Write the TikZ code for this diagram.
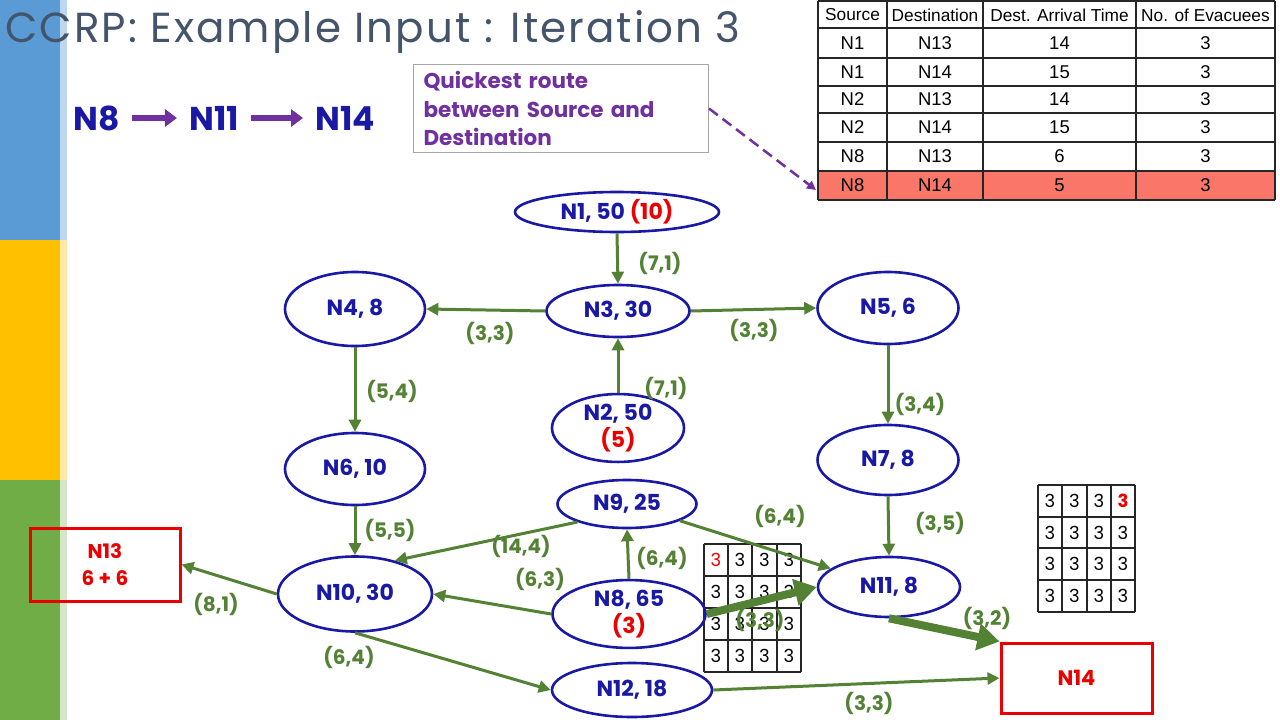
\documentclass[tikz,border=0pt]{standalone}
\usepackage{fontspec}
\setmainfont{Poppins}
\newfontfamily\arialf{Liberation Sans}
\newfontfamily\titlef[LetterSpace=5]{Poppins}
\usetikzlibrary{arrows.meta,shapes.geometric}
\definecolor{navy}{RGB}{25,25,165}
\definecolor{egreen}{RGB}{84,130,53}
\definecolor{purp}{RGB}{112,48,160}
\definecolor{tgray}{RGB}{68,84,106}
\definecolor{rred}{RGB}{235,0,0}
\definecolor{salmon}{RGB}{250,118,105}
\definecolor{sblue}{RGB}{91,155,213}
\definecolor{syellow}{RGB}{255,192,0}
\definecolor{sgreen}{RGB}{112,173,71}
\begin{document}
\begin{tikzpicture}[x=1pt,y=-1pt,
  nd/.style={ellipse,draw=navy,line width=2.6pt,inner sep=0pt,text=navy,
    font=\fontsize{22}{23}\selectfont\bfseries,align=center},
  dest/.style={rectangle,draw=rred,line width=3pt,inner sep=0pt,text=rred,
    font=\fontsize{20}{27}\selectfont\bfseries,align=center},
  edge/.style={draw=egreen,line width=3pt,-{Triangle[length=12pt,width=12pt]}},
  bigedge/.style={draw=egreen,line width=8pt,-{Triangle[length=22pt,width=26pt]}},
  lbl/.style={text=egreen,font=\fontsize{20}{22}\selectfont\bfseries,inner sep=0pt},
  pathnd/.style={text=navy,font=\fontsize{33}{36}\selectfont\bfseries,inner xsep=12pt,inner ysep=0pt},
  parrow/.style={draw=purp,line width=6pt,-{Triangle[length=12pt,width=17pt]}},
  cell/.style={font=\arialf\fontsize{18.5}{20}\selectfont,inner sep=0pt},
  hcell/.style={font=\arialf\fontsize{17.3}{20}\selectfont,inner sep=0pt},
  gcell/.style={font=\fontsize{18}{20}\selectfont,inner sep=0pt},
  tline/.style={draw=black!85,line width=1.4pt},
  gline/.style={draw=black!85,line width=1.1pt}
]
\useasboundingbox (0,0) rectangle (1280,720);
\fill[white] (0,0) rectangle (1280,720);
% side strip
\fill[sblue] (0,0) rectangle (60,240);
\fill[sblue!40] (60,0) rectangle (67,240);
\fill[syellow] (0,240) rectangle (60,480);
\fill[syellow!35] (60,240) rectangle (67,480);
\fill[sgreen] (0,480) rectangle (60,720);
\fill[sgreen!30] (60,480) rectangle (67,720);
% title
\node[anchor=base west,inner sep=0pt,text=tgray,font=\titlef\fontsize{42}{46}\selectfont] (title) at (5,42) {CCRP: Example Input : Iteration 3};
% route
\node[pathnd] (p8) at (97,118) {N8};
\node[pathnd] (p11) at (214,118) {N11};
\node[pathnd] (p14) at (345,118) {N14};
\draw[parrow] (p8) -- (p11);
\draw[parrow] (p11) -- (p14);
% table
\fill[salmon] (818,171) rectangle (1275,200);
\foreach \y in {1,28,58,86,113,142,171,200} \draw[tline] (818,\y) -- (1275,\y);
\foreach \x in {818,887,983,1136,1275} \draw[tline] (\x,1) -- (\x,200);
\node[hcell] (h1) at (852.5,15) {Source};
\node[hcell] (h2) at (935,15) {Destination};
\node[hcell] (h3) at (1059.5,15) {Dest. Arrival Time};
\node[hcell] (h4) at (1205.5,15) {No. of Evacuees};
\foreach \s/\d/\t/\yy in {N1/N13/14/43, N1/N14/15/72, N2/N13/14/99.5, N2/N14/15/127.5, N8/N13/6/156.5, N8/N14/5/185.5}{
  \node[cell] at (852.5,\yy) {\s};
  \node[cell] at (935,\yy) {\d};
  \node[cell] at (1059.5,\yy) {\t};
  \node[cell] at (1205.5,\yy) {3};
}
\coordinate (rowhit) at (816,190);
% callout
\node[draw=black!35,line width=1pt,anchor=north west,minimum width=295pt,minimum height=88pt,
  inner xsep=10pt,inner ysep=0pt,text=purp,align=left,text width=275pt,
  font=\fontsize{21.5}{28.5}\selectfont\bfseries] (call) at (413,64) {Quickest route\\between Source and\\Destination};
\draw[purp,line width=2.5pt,dash pattern=on 11pt off 6pt,-{Triangle[length=9pt,width=9pt]}] (call.east) -- (rowhit);
% grids
\foreach \x in {704,728,752,777,801} \draw[gline] (\x,544) -- (\x,672);
\foreach \y in {544,576,608,640,672} \draw[gline] (704,\y) -- (801,\y);
\foreach \cx in {716,740,764.5,789}{\foreach \cy in {560,592,624,656}{
  \node[gcell] at (\cx,\cy) {3};}}
\fill[white] (709,548) rectangle (724,572);
\node[gcell,text=rred] at (716,560) {3};
\foreach \x in {1038,1062,1087,1111,1135} \draw[gline] (\x,485) -- (\x,612);
\foreach \y in {485,517,548,580,612} \draw[gline] (1038,\y) -- (1135,\y);
\foreach \cx in {1050,1074.5,1099,1123}{\foreach \cy in {501,532.5,564,596}{
  \node[gcell] at (\cx,\cy) {3};}}
\fill[white] (1115,489) rectangle (1131,513);
\node[gcell,text=rred,font=\fontsize{18}{20}\selectfont\bfseries] at (1123,501) {3};
% nodes
\node[nd,minimum width=204pt,minimum height=40pt] (n1) at (617,212) {N1, 50 \textcolor{rred}{(10)}};
\node[nd,minimum width=143pt,minimum height=52pt] (n3) at (618,311) {N3, 30};
\node[nd,minimum width=140pt,minimum height=74pt] (n4) at (355,309) {N4, 8};
\node[nd,minimum width=141pt,minimum height=72pt] (n5) at (888,308) {N5, 6};
\node[nd,minimum width=132pt,minimum height=63pt] (n2) at (618,428) {N2, 50\\[4pt]\textcolor{rred}{(5)}};
\node[nd,minimum width=140pt,minimum height=72pt] (n6) at (355,469) {N6, 10};
\node[nd,minimum width=141pt,minimum height=70pt] (n7) at (888,460) {N7, 8};
\node[nd,minimum width=139pt,minimum height=48pt] (n9) at (627,504) {N9, 25};
\node[nd,minimum width=154pt,minimum height=75pt] (n10) at (355,594) {N10, 30};
\node[nd,minimum width=153pt,minimum height=63pt] (n8) at (629,614) {N8, 65\\[4pt]\textcolor{rred}{(3)}};
\node[nd,minimum width=142pt,minimum height=60pt] (n11) at (889,587) {N11, 8};
\node[nd,minimum width=160pt,minimum height=54pt] (n12) at (632,690) {N12, 18};
\node[dest,minimum width=150pt,minimum height=73pt] (n13) at (105,564.5) {N13\\6 + 6};
\node[dest,minimum width=151pt,minimum height=70pt,font=\fontsize{21}{24}\selectfont\bfseries] (n14) at (1076.5,678) {N14};
% edges
\draw[edge] (n1.south) -- (n3.north);
\draw[edge] (n3.west) -- (n4.east);
\draw[edge] (n3.east) -- (n5.west);
\draw[edge] (n2.north) -- (n3.south);
\draw[edge] (n4.south) -- (n6.north);
\draw[edge] (n5.south) -- (n7.north);
\draw[edge] (n6.south) -- (n10.north);
\draw[edge] (n7.south) -- (n11.north);
\draw[edge] (n9.200) -- (n10.40);
\draw[edge] (n9) -- (n11);
\draw[edge] (n8.north) -- (n9.south);
\draw[edge] (n8.west) -- (n10.east);
\draw[edge] (n10.west) -- (n13.east);
\draw[edge] (n10.south) -- (n12.west);
\draw[edge] (n12.east) -- (n14.west);
\draw[bigedge] (n8.east) -- (n11.west);
\draw[bigedge] (n11.south) -- (n14.north west);
% labels
\node[lbl] at (660,263) {(7,1)};
\node[lbl] at (490,333) {(3,3)};
\node[lbl] at (754,330) {(3,3)};
\node[lbl] at (666,388) {(7,1)};
\node[lbl] at (392,391) {(5,4)};
\node[lbl] at (920,404) {(3,4)};
\node[lbl] at (390,530) {(5,5)};
\node[lbl] at (940,523) {(3,5)};
\node[lbl] at (521,546) {(14,4)};
\node[lbl] at (780,516) {(6,4)};
\node[lbl] at (662,558) {(6,4)};
\node[lbl] at (540,579) {(6,3)};
\node[lbl] at (760,620) {(3,3)};
\node[lbl] at (216,604) {(8,1)};
\node[lbl] at (349,657) {(6,4)};
\node[lbl] at (987,618) {(3,2)};
\node[lbl] at (869,703) {(3,3)};
\end{tikzpicture}
\end{document}
